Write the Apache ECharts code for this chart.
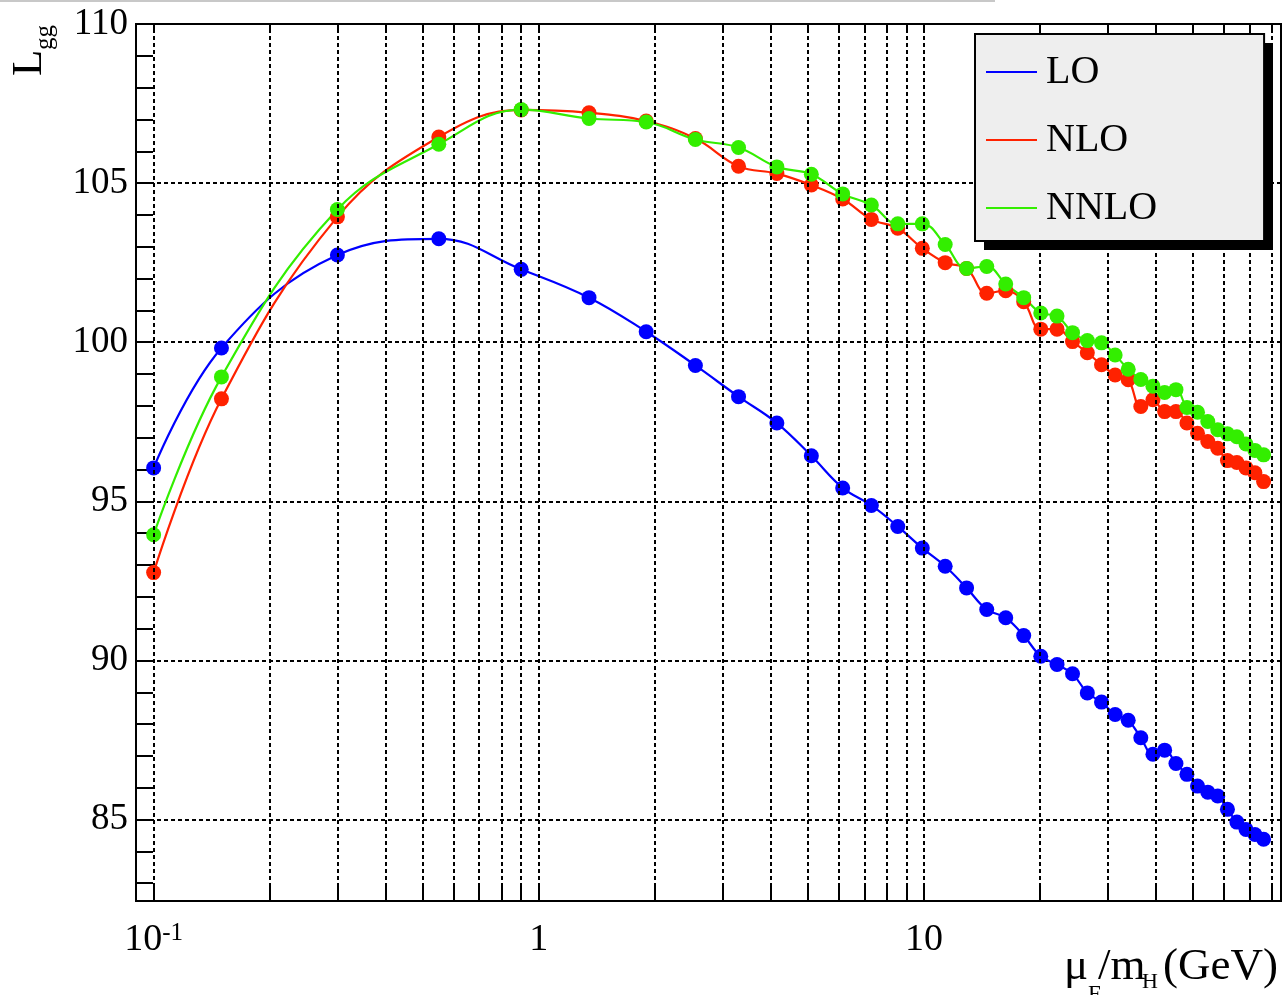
<!DOCTYPE html>
<html>
<head>
<meta charset="utf-8">
<script src="https://cdn.jsdelivr.net/npm/echarts@6.0.0/dist/echarts.min.js"></script>
<style>
html, body { margin: 0; padding: 0; background: #fff; }
#chart { width: 1286px; height: 995px; }
</style>
</head>
<body>
<div id="chart"></div>
<script>
// mu_F / m_H scan points (shared by the three orders)
var muRatio = [0.1, 0.15, 0.3, 0.55, 0.9, 1.35, 1.9, 2.55, 3.3, 4.15,
    5.1, 6.15, 7.3, 8.55, 9.9, 11.35, 12.9, 14.55, 16.3, 18.15,
    20.1, 22.15, 24.3, 26.55, 28.9, 31.35, 33.9, 36.55, 39.3, 42.15,
    45.1, 48.15, 51.3, 54.55, 57.9, 61.35, 64.9, 68.55, 72.3, 76.15];

var lggLO = [96.05, 99.82, 102.74, 103.25, 102.29, 101.40, 100.33, 99.27, 98.29, 97.46,
    96.43, 95.42, 94.87, 94.21, 93.53, 92.96, 92.28, 91.60, 91.34, 90.78,
    90.13, 89.87, 89.58, 88.98, 88.69, 88.30, 88.12, 87.57, 87.05, 87.18,
    86.76, 86.42, 86.05, 85.86, 85.74, 85.32, 84.92, 84.69, 84.53, 84.38];

var lggNLO = [92.76, 98.22, 103.94, 106.45, 107.30, 107.21, 106.95, 106.40, 105.53, 105.30,
    104.94, 104.50, 103.86, 103.58, 102.95, 102.50, 102.32, 101.54, 101.62, 101.27,
    100.41, 100.41, 100.02, 99.67, 99.29, 98.97, 98.82, 97.98, 98.19, 97.82,
    97.82, 97.46, 97.14, 96.88, 96.67, 96.28, 96.22, 96.05, 95.90, 95.62];

var lggNNLO = [93.95, 98.91, 104.17, 106.22, 107.31, 107.03, 106.92, 106.37, 106.12, 105.51,
    105.28, 104.66, 104.31, 103.72, 103.72, 103.07, 102.32, 102.38, 101.83, 101.40,
    100.92, 100.82, 100.30, 100.05, 99.98, 99.60, 99.15, 98.83, 98.62, 98.42,
    98.51, 97.95, 97.80, 97.51, 97.25, 97.12, 97.03, 96.80, 96.60, 96.46];

var seriesNames = ['LO', 'NLO', 'NNLO'];
var seriesColors = ['#0000ff', '#ff2200', '#33ee00'];

// log grid: 1..9 x 10^k
var xGrid = [0.1, 0.2, 0.3, 0.4, 0.5, 0.6, 0.7, 0.8, 0.9,
    1, 2, 3, 4, 5, 6, 7, 8, 9,
    10, 20, 30, 40, 50, 60, 70, 80];

var X_MIN = 0.09, X_MAX = 84.5;
var Y_MIN = 82.44, Y_MAX = 110;

var SERIF = '"Liberation Serif", "DejaVu Serif", serif';

function pairs(ys) {
    return muRatio.map(function (x, i) { return [x, ys[i]]; });
}

function xLabel(v) {
    if (Math.abs(v - 0.1) < 1e-6) return '{b|10}{s|-1}';
    if (Math.abs(v - 1) < 1e-6) return '1';
    if (Math.abs(v - 10) < 1e-6) return '10';
    return '';
}

var dataSeries = [lggLO, lggNLO, lggNNLO].map(function (ys, i) {
    return {
        name: seriesNames[i],
        type: 'line',
        data: pairs(ys),
        smooth: 0.4,
        symbol: 'circle',
        symbolSize: 15,
        lineStyle: { width: 2.2, color: seriesColors[i] },
        itemStyle: { color: seriesColors[i] },
        z: 3
    };
});

// dashed grid lines on the log axis
var gridSeries = {
    type: 'line',
    data: [],
    z: 1,
    markLine: {
        silent: true,
        symbol: 'none',
        label: { show: false },
        lineStyle: { color: '#000', width: 2, type: [4, 3] },
        data: xGrid.map(function (v) { return { xAxis: v }; })
    }
};

// short solid ticks on bottom and top frame
var tickSeries = {
    type: 'line',
    data: [],
    z: 2,
    markLine: {
        silent: true,
        symbol: 'none',
        label: { show: false },
        lineStyle: { color: '#000', width: 2, type: 'solid' },
        data: xGrid.map(function (v) {
            return [{ coord: [v, Y_MIN + 0.02] }, { coord: [v, Y_MIN + 0.47] }];
        }).concat(xGrid.map(function (v) {
            return [{ coord: [v, Y_MAX - 0.02] }, { coord: [v, Y_MAX - 0.28] }];
        }))
    }
};

var option = {
    animation: false,
    backgroundColor: '#fff',
    grid: {
        left: 136, right: 5, top: 24, bottom: 94,
        show: true, borderColor: '#000', borderWidth: 2, backgroundColor: 'transparent'
    },
    legend: {
        data: seriesNames,
        orient: 'vertical',
        left: 975,
        top: 34,
        z: 6,
        icon: 'rect',
        itemWidth: 51,
        itemHeight: 2,
        itemGap: 28,
        padding: [18, 107, 13, 11],
        backgroundColor: '#eeeeee',
        borderColor: '#000',
        borderWidth: 2,
        selectedMode: false,
        textStyle: { fontFamily: SERIF, fontSize: 40, color: '#000', lineHeight: 40, padding: [0, 0, 0, 4] }
    },
    xAxis: {
        type: 'log',
        logBase: 10,
        min: X_MIN,
        max: X_MAX,
        axisLine: { show: false },
        axisTick: { show: false },
        splitLine: { show: false },
        axisLabel: {
            formatter: xLabel,
            margin: 20,
            color: '#000',
            fontFamily: SERIF,
            fontSize: 38,
            rich: {
                b: { fontFamily: SERIF, fontSize: 38, color: '#000' },
                s: { fontFamily: SERIF, fontSize: 25, color: '#000', verticalAlign: 'top' }
            }
        }
    },
    yAxis: [{
        type: 'value',
        min: Y_MIN,
        max: Y_MAX,
        splitNumber: 5,
        axisLine: { show: false },
        axisTick: { show: false },
        axisLabel: { showMinLabel: false, color: '#000', fontFamily: SERIF, fontSize: 37, margin: 8 },
        splitLine: { lineStyle: { color: '#000', width: 2, type: [4, 3] } }
    }, {
        type: 'value',
        min: Y_MIN,
        max: Y_MAX,
        splitNumber: 28,
        position: 'left',
        axisLine: { show: false },
        axisLabel: { show: false },
        splitLine: { show: false },
        axisTick: { inside: true, length: 17, lineStyle: { color: '#000', width: 2 } }
    }],
    graphic: [
        { type: 'line', silent: true, shape: { x1: 0, y1: 1, x2: 995, y2: 1 }, style: { stroke: '#c8c8c8', lineWidth: 2 } },
        // drop shadow of the legend box
        { type: 'rect', silent: true, z: 5, shape: { x: 984, y: 43, width: 289, height: 207 }, style: { fill: '#000' } },
        {
            type: 'group', x: 30, y: 76, rotation: Math.PI / 2,
            children: [
                { type: 'text', x: 0, y: 0, style: { text: 'L', fontFamily: SERIF, fontSize: 43, fill: '#000', align: 'left', verticalAlign: 'middle' } },
                { type: 'text', x: 26, y: 15, style: { text: 'gg', fontFamily: SERIF, fontSize: 25, fill: '#000', align: 'left', verticalAlign: 'middle' } }
            ]
        },
        { type: 'text', x: 1064, y: 967, style: { text: 'μ', fontFamily: SERIF, fontSize: 45, fill: '#000', align: 'left', verticalAlign: 'middle' } },
        { type: 'text', x: 1088, y: 995, style: { text: 'F', fontFamily: SERIF, fontSize: 23, fill: '#000', align: 'left', verticalAlign: 'middle' } },
        { type: 'text', x: 1098, y: 967, style: { text: '/m', fontFamily: SERIF, fontSize: 45, fill: '#000', align: 'left', verticalAlign: 'middle' } },
        { type: 'text', x: 1142, y: 982, style: { text: 'H', fontFamily: SERIF, fontSize: 22, fill: '#000', align: 'left', verticalAlign: 'middle' } },
        { type: 'text', x: 1163, y: 967, style: { text: '(GeV)', fontFamily: SERIF, fontSize: 45, fill: '#000', align: 'left', verticalAlign: 'middle' } }
    ],
    series: [gridSeries, tickSeries].concat(dataSeries)
};

var chart = echarts.init(document.getElementById('chart'));
chart.setOption(option);
</script>
</body>
</html>
